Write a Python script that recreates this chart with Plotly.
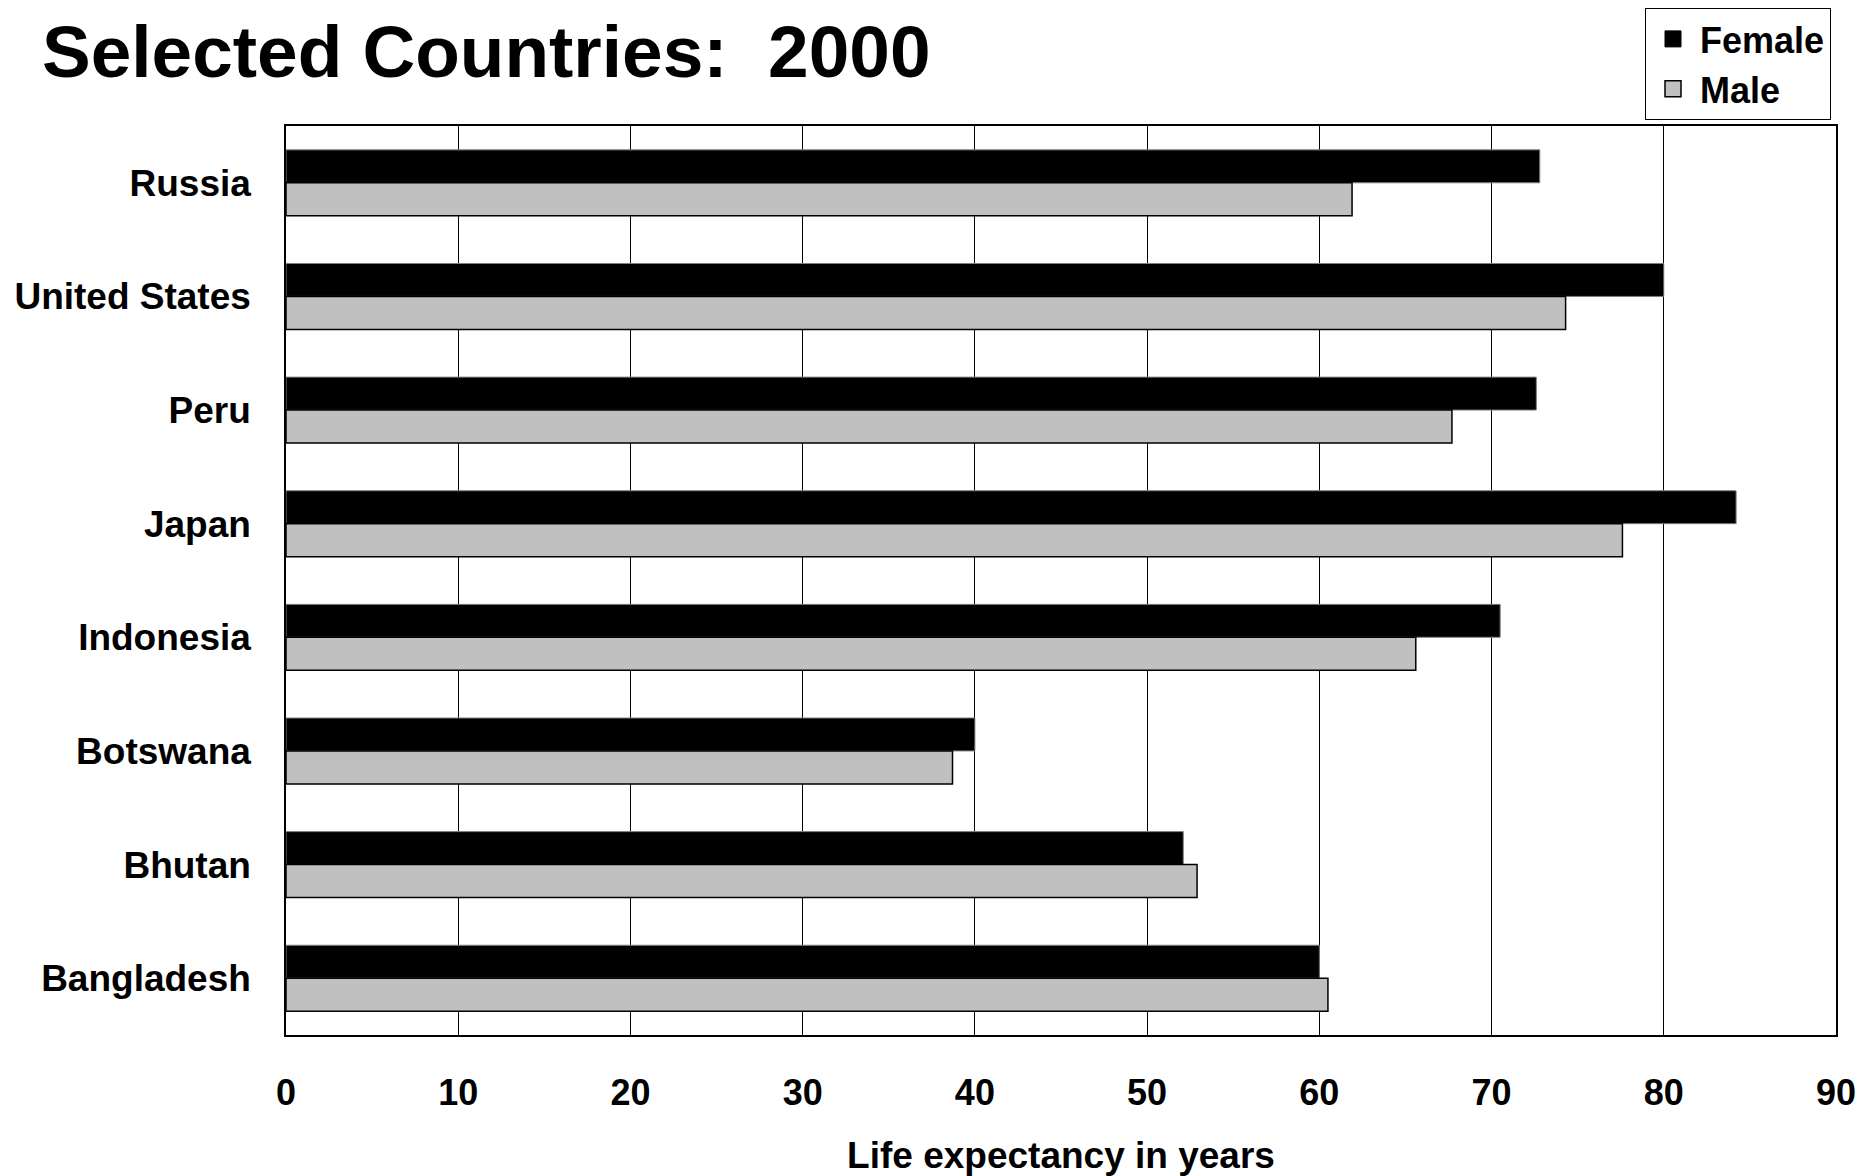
import plotly.graph_objects as go

countries = ["Russia", "United States", "Peru", "Japan", "Indonesia", "Botswana", "Bhutan", "Bangladesh"]
female = [72.8, 80.0, 72.6, 84.2, 70.5, 40.0, 52.1, 60.0]
male = [61.9, 74.3, 67.7, 77.6, 65.6, 38.7, 52.9, 60.5]
xticks = [0, 10, 20, 30, 40, 50, 60, 70, 80, 90]

FONT = "Liberation Sans, Arial, sans-serif"
FEMALE_COLOR = "#000000"
MALE_COLOR = "#C0C0C0"

fig = go.Figure()
fig.add_trace(go.Bar(
    y=countries, x=female, name="Female", orientation="h", showlegend=False,
    marker=dict(color=FEMALE_COLOR, line=dict(color="#808080", width=1)),
))
fig.add_trace(go.Bar(
    y=countries, x=male, name="Male", orientation="h", showlegend=False,
    marker=dict(color=MALE_COLOR, line=dict(color="#000000", width=1.5)),
))
# legend entries with larger square swatches
fig.add_trace(go.Scatter(
    x=[None], y=[None], mode="markers", name="Female",
    marker=dict(symbol="square", size=18, color=FEMALE_COLOR,
                line=dict(color="#000000", width=1)),
))
fig.add_trace(go.Scatter(
    x=[None], y=[None], mode="markers", name="Male",
    marker=dict(symbol="square", size=18, color=MALE_COLOR,
                line=dict(color="#000000", width=1.5)),
))

fig.update_layout(
    width=1868, height=1176,
    paper_bgcolor="white", plot_bgcolor="white",
    margin=dict(l=278, r=40, t=118, b=149, autoexpand=False),
    barmode="group", bargap=0.42, bargroupgap=0,
    font=dict(family=FONT, size=36, color="black", weight="bold"),
    title=dict(
        text="Selected Countries:\u00a0 2000",
        x=34 / 1868, xref="container", xanchor="left",
        y=1 - 43 / 1176, yref="container", yanchor="middle",
        font=dict(family=FONT, size=73, color="black", weight="bold"),
    ),
    legend=dict(
        x=(1831 - 8) / 1868, xref="container", xanchor="right",
        y=1.0, yref="container", yanchor="top",
        bordercolor="black", borderwidth=1, bgcolor="white",
        font=dict(family=FONT, size=36, color="black", weight="bold"),
        itemwidth=44, tracegroupgap=0, itemsizing="trace",
    ),
    showlegend=True,
)

fig.update_xaxes(
    range=[0, 90], tickvals=xticks, ticktext=[str(v) for v in xticks],
    showgrid=True, gridcolor="black", gridwidth=1,
    showline=True, linecolor="black", linewidth=1.5, mirror=True,
    ticks="", ticklabelstandoff=25, zeroline=False, automargin=False,
    tickfont=dict(family=FONT, size=36, color="black", weight="bold"),
    title=dict(text="Life expectancy in years", standoff=30,
               font=dict(family=FONT, size=37, color="black", weight="bold")),
)
fig.update_yaxes(
    autorange="reversed", showgrid=False, automargin=False,
    showline=True, linecolor="black", linewidth=1.5, mirror=True,
    ticks="", ticklabelstandoff=26,
    tickfont=dict(family=FONT, size=37, color="black", weight="bold"),
)

fig.write_html("out.html")
